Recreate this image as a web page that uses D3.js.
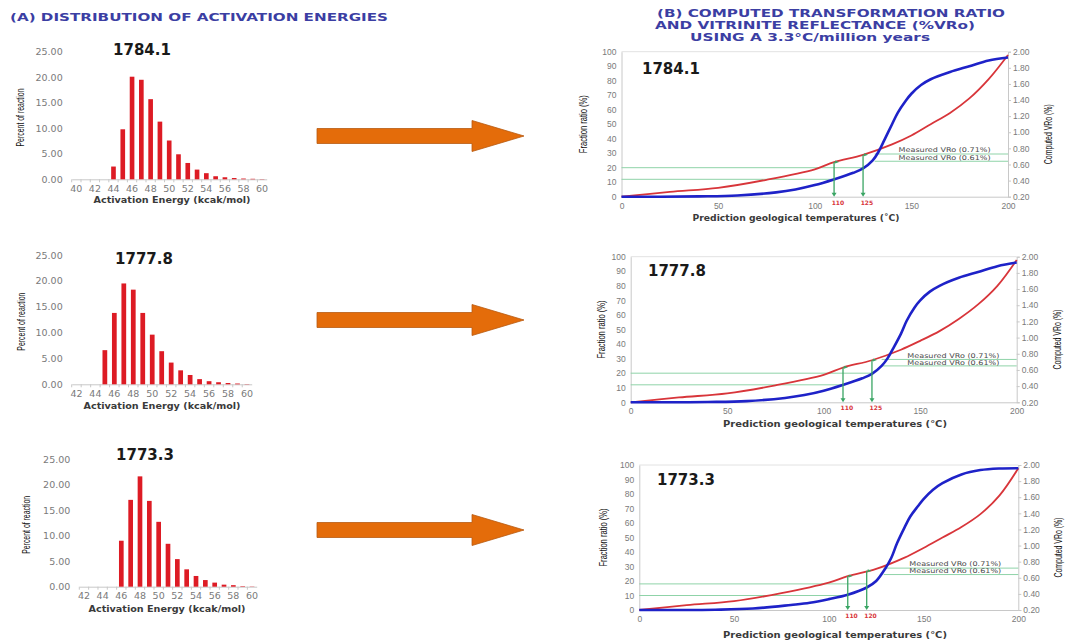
<!DOCTYPE html>
<html lang="en">
<head>
<meta charset="UTF-8">
<title>Activation energies &amp; transformation ratio</title>
<script src="https://d3js.org/d3.v7.min.js"></script>
<style>
  body { margin: 0; background: #fff; }
  svg { display: block; font-family: "DejaVu Sans", Verdana, sans-serif; }
  .tick text { fill: #7a7a7a; }
</style>
</head>
<body>
<svg id="fig" width="1069" height="644"></svg>
<script>
// sample depths, one row each
const sampleNames = ["1784.1", "1777.8", "1773.3"];

// (A) activation energy distributions (% of reaction per kcal/mol)
const energyTop = [40,41,42,43,44,45,46,47,48,49,50,51,52,53,54,55,56,57,58,59,60];
const pctTop    = [0,0,0,0,2.5,9.8,20.1,19.5,15.7,11.3,7.6,4.9,3.2,1.9,1.2,0.6,0.4,0.25,0.15,0.1,0.05];
const energyMid = [42,43,44,45,46,47,48,49,50,51,52,53,54,55,56,57,58,59,60];
const pctMid    = [0,0,0,6.6,13.8,19.5,18.3,13.8,9.6,6.4,4.2,2.7,1.8,1.0,0.6,0.4,0.25,0.15,0.05];
const energyBot = [42,43,44,45,46,47,48,49,50,51,52,53,54,55,56,57,58,59,60];
const pctBot    = [0,0,0,0,9.0,17.0,21.6,16.8,12.7,8.4,5.4,3.4,2.1,1.3,0.8,0.4,0.3,0.1,0.05];
const energyTicksTop = [40,42,44,46,48,50,52,54,56,58,60];
const energyTicks    = [42,44,46,48,50,52,54,56,58,60];
const pctTicks = [0,5,10,15,20,25];

// (B) transformation ratio (blue, left axis %) and computed VRo (red, right axis %)
const tempTR = [0,20,40,60,80,90,100,110,120,125,130,133,136,140,143,147,150,155,160,170,180,190,200];
const trTop  = [0,0,0.2,0.8,3,5,8,12,16.5,19.5,25,31,39,50,58,66,71,77,81,86,90,94,96];
const trMid  = [0,0,0.2,0.8,3,5,8,12,16.5,19.5,25,30,37,47,56,65,70,76,80,85.5,89.5,93.5,96];
const trBot  = [0,0,0.2,1,3.5,5,7.5,10.5,15.5,20,29,36,46,57,64.5,71.5,76.5,83,87.5,93.5,96.5,97.6,97.8];
const tempVR = [0,25,50,75,100,110,125,140,150,160,170,180,190,200];
const vroTop = [0.20,0.26,0.31,0.41,0.54,0.63,0.72,0.85,0.96,1.10,1.24,1.42,1.66,1.96];
const vroMid = [0.20,0.26,0.31,0.41,0.54,0.63,0.72,0.85,0.96,1.08,1.23,1.41,1.64,1.96];
const vroBot = [0.20,0.26,0.31,0.41,0.54,0.62,0.71,0.85,0.97,1.10,1.23,1.39,1.62,1.96];
const fracTicks = [0,10,20,30,40,50,60,70,80,90,100];
const vroTicks  = [0.2,0.4,0.6,0.8,1.0,1.2,1.4,1.6,1.8,2.0];
const tempTicks = [0,50,100,150,200];

// green reading lines: TR levels read at the temperatures, measured VRo lines
const trLevelsTop = [12, 20], readTempsTop = [110, 125], readTopFrac = [24, 29];
const trLevelsMid = [12, 20], readTempsMid = [110, 125], readMidFrac = [24, 29];
const trLevelsBot = [10, 18], readTempsBot = [110, 120], readBotFrac = [23.5, 27];
const measuredVroTop = [0.73, 0.64];
const measuredVroMid = [0.73, 0.65];
const measuredVroBot = [0.72, 0.64];
const measuredLabels = ["Measured VRo (0.71%)", "Measured VRo (0.61%)"];

const svg = d3.select("#fig");
svg.append("rect").attr("width", 1069).attr("height", 644).attr("fill", "#fff");

// headings
const blue = "#3b3ea3";
svg.append("text").attr("x", 10).attr("y", 21).attr("fill", blue)
  .attr("font-weight", "bold").attr("font-size", 11)
  .attr("textLength", 378).attr("lengthAdjust", "spacingAndGlyphs")
  .text("(A) DISTRIBUTION OF ACTIVATION ENERGIES");
[["(B) COMPUTED TRANSFORMATION RATIO", 657, 17, 348],
 ["AND VITRINITE REFLECTANCE (%VRo)", 655, 29, 320],
 ["USING A 3.3°C/million years", 690, 41, 240]].forEach(([t, x, y, w]) => {
  svg.append("text").attr("x", x).attr("y", y).attr("fill", blue)
    .attr("font-weight", "bold").attr("font-size", 11)
    .attr("textLength", w).attr("lengthAdjust", "spacingAndGlyphs").text(t);
});

const hists = [
  { name: sampleNames[0], energy: energyTop, pct: pctTop, ticks: energyTicksTop,
    xr: [71.7, 266.7], yr: [179.3, 51.7], titleX: 142, titleY: 55, ylabX: 21, xlabX: 172, xlabY: 203 },
  { name: sampleNames[1], energy: energyMid, pct: pctMid, ticks: energyTicks,
    xr: [71.7, 251.7], yr: [384.3, 255], titleX: 144, titleY: 264, ylabX: 22, xlabX: 162, xlabY: 409 },
  { name: sampleNames[2], energy: energyBot, pct: pctBot, ticks: energyTicks,
    xr: [79.3, 256.7], yr: [586.7, 459], titleX: 145, titleY: 460, ylabX: 27, xlabX: 167, xlabY: 612 }
];

function drawHistogram(p) {
  const g = svg.append("g");
  const x = d3.scaleBand().domain(p.energy).range(p.xr).paddingInner(0.5).paddingOuter(0.25);
  const y = d3.scaleLinear().domain([0, 25]).range(p.yr);
  const step = x.step();

  g.append("g").attr("transform", `translate(${p.xr[0]},0)`)
    .call(d3.axisLeft(y).tickValues(pctTicks).tickFormat(d3.format(".2f")).tickSize(0).tickPadding(9))
    .call(a => a.select(".domain").remove())
    .selectAll("text").attr("font-size", 9.5).attr("font-family", "DejaVu Sans");

  const xa = g.append("g").attr("transform", `translate(0,${p.yr[0]})`)
    .call(d3.axisBottom(x).tickValues(p.ticks).tickSize(0).tickPadding(6));
  xa.select(".domain").attr("stroke", "#c8c8c8");
  xa.selectAll("text").attr("font-size", 9.5).attr("font-family", "DejaVu Sans");
  // small ticks between categories
  g.selectAll(".btick").data(p.energy).join("line")
    .attr("x1", d => x(d) - step * 0.25).attr("x2", d => x(d) - step * 0.25)
    .attr("y1", p.yr[0]).attr("y2", p.yr[0] + 3).attr("stroke", "#c8c8c8");

  g.selectAll(".bar").data(p.energy).join("rect")
    .attr("x", d => x(d)).attr("width", x.bandwidth())
    .attr("y", (d, i) => y(p.pct[i])).attr("height", (d, i) => y(0) - y(p.pct[i]))
    .attr("fill", "#dd1b24");

  g.append("text").attr("x", p.titleX).attr("y", p.titleY).attr("text-anchor", "middle")
    .attr("font-weight", "bold").attr("font-size", 15).attr("fill", "#1a1a1a").text(p.name);
  g.append("text").attr("x", p.xlabX).attr("y", p.xlabY).attr("text-anchor", "middle")
    .attr("font-weight", "bold").attr("font-size", 8.5).attr("fill", "#3a3a3a")
    .attr("textLength", 157).attr("lengthAdjust", "spacingAndGlyphs")
    .text("Activation Energy (kcak/mol)");
  const cy = (p.yr[0] + p.yr[1]) / 2 + 2;
  g.append("text").attr("transform", `translate(${p.ylabX + 3},${cy}) rotate(-90)`)
    .attr("text-anchor", "middle").attr("font-size", 10).attr("fill", "#111")
    .attr("font-family", "Liberation Sans Narrow, Liberation Sans, sans-serif")
    .attr("textLength", 58).attr("lengthAdjust", "spacingAndGlyphs")
    .text("Percent of reaction");
}
hists.forEach(drawHistogram);

// orange arrows between the panels
[136, 320, 530].forEach(cy => {
  const x0 = 317, x1 = 472, x2 = 524, hb = 7.5, hh = 15.5;
  svg.append("path")
    .attr("d", `M${x0},${cy - hb}H${x1}V${cy - hh}L${x2},${cy}L${x1},${cy + hh}V${cy + hb}H${x0}Z`)
    .attr("fill", "#e46c0a").attr("stroke", "#b85a12").attr("stroke-width", 0.8);
});

const curves = [
  { name: sampleNames[0], tr: trTop, vro: vroTop, levels: trLevelsTop, reads: readTempsTop, readFrac: readTopFrac,
    measured: measuredVroTop, rStart: 131, xr: [621.5, 1008], yr: [196.7, 51.7],
    titleX: 642, titleY: 74, ylabX: 586, rlabX: 1051, xlabX: 796, xlabY: 221, xlabW: 207, unit: "(˚C)" },
  { name: sampleNames[1], tr: trMid, vro: vroMid, levels: trLevelsMid, reads: readTempsMid, readFrac: readMidFrac,
    measured: measuredVroMid, rStart: 130, xr: [630.7, 1016.7], yr: [402.3, 256.7],
    titleX: 648, titleY: 276, ylabX: 604, rlabX: 1060, xlabX: 835, xlabY: 427, xlabW: 224, unit: "(°C)" },
  { name: sampleNames[2], tr: trBot, vro: vroBot, levels: trLevelsBot, reads: readTempsBot, readFrac: readBotFrac,
    measured: measuredVroBot, rStart: 129, xr: [639.3, 1018.3], yr: [610, 465],
    titleX: 657, titleY: 485, ylabX: 606, rlabX: 1061, xlabX: 835, xlabY: 638, xlabW: 224, unit: "(°C)" }
];

function drawCurves(p) {
  const g = svg.append("g");
  const x = d3.scaleLinear().domain([0, 200]).range(p.xr);
  const yL = d3.scaleLinear().domain([0, 100]).range(p.yr);
  const yR = d3.scaleLinear().domain([0.2, 2.0]).range(p.yr);
  const green = "#3aa564", lightGreen = "#8fd3a8";

  // top frame line
  g.append("line").attr("x1", p.xr[0]).attr("x2", p.xr[1]).attr("y1", p.yr[1]).attr("y2", p.yr[1])
    .attr("stroke", "#e2e2e2");

  const la = g.append("g").attr("transform", `translate(${p.xr[0]},0)`)
    .call(d3.axisLeft(yL).tickValues(fracTicks).tickSize(0).tickPadding(5));
  la.select(".domain").attr("stroke", "#c8c8c8");
  la.selectAll("text").attr("font-size", 8.5);

  const ra = g.append("g").attr("transform", `translate(${p.xr[1]},0)`)
    .call(d3.axisRight(yR).tickValues(vroTicks).tickFormat(d3.format(".2f")).tickSize(3).tickPadding(2));
  ra.select(".domain").attr("stroke", "#c8c8c8");
  ra.selectAll("line").attr("stroke", "#c8c8c8");
  ra.selectAll("text").attr("font-size", 8.5);

  const ba = g.append("g").attr("transform", `translate(0,${p.yr[0]})`)
    .call(d3.axisBottom(x).tickValues(tempTicks).tickSize(0).tickPadding(6));
  ba.select(".domain").attr("stroke", "#c8c8c8");
  ba.selectAll("text").attr("font-size", 8.5);

  // green reading lines (left: TR levels, right: measured VRo)
  p.levels.forEach((lv, i) => {
    g.append("line").attr("x1", x(0)).attr("x2", x(p.reads[i])).attr("y1", yL(lv)).attr("y2", yL(lv))
      .attr("stroke", lightGreen).attr("stroke-width", 1);
  });
  p.measured.forEach((v, i) => {
    g.append("line").attr("x1", x(p.rStart)).attr("x2", x(200)).attr("y1", yR(v)).attr("y2", yR(v))
      .attr("stroke", lightGreen).attr("stroke-width", 1);
    g.append("text").attr("x", x(191)).attr("y", yR(v) - (i === 0 ? 1.8 : 1.2)).attr("text-anchor", "end")
      .attr("font-size", 6.5).attr("fill", "#4a4a4a")
      .attr("textLength", 92).attr("lengthAdjust", "spacingAndGlyphs").text(measuredLabels[i]);
  });

  const line = d3.line().curve(d3.curveCatmullRom.alpha(0.5));
  g.append("path").attr("d", line(tempVR.map((t, i) => [x(t), yR(p.vro[i])])))
    .attr("fill", "none").attr("stroke", "#d8353a").attr("stroke-width", 1.8);
  g.append("path").attr("d", line(tempTR.map((t, i) => [x(t), yL(p.tr[i])])))
    .attr("fill", "none").attr("stroke", "#1e22c8").attr("stroke-width", 2.6);

  // vertical reading arrows
  p.reads.forEach((t, i) => {
    const xx = x(t), yTop = yL(p.readFrac[i]), yb = yL(0);
    g.append("line").attr("x1", xx).attr("x2", xx).attr("y1", yTop).attr("y2", yb - 3)
      .attr("stroke", green).attr("stroke-width", 1.3);
    g.append("path").attr("d", `M${xx - 2.5},${yb - 4}L${xx + 2.5},${yb - 4}L${xx},${yb}Z`).attr("fill", green);
    g.append("path").attr("d", `M${xx + 1},${yTop - 1.5}L${xx + 5},${yTop}L${xx + 1},${yTop + 1.5}Z`).attr("fill", green);
    g.append("text").attr("x", x(t + 2)).attr("y", yb + 8).attr("text-anchor", "middle")
      .attr("font-size", 6).attr("font-weight", "bold").attr("fill", "#d8353a").text(t);
  });

  g.append("text").attr("x", p.titleX).attr("y", p.titleY)
    .attr("font-weight", "bold").attr("font-size", 15).attr("fill", "#1a1a1a").text(p.name);
  g.append("text").attr("x", p.xlabX).attr("y", p.xlabY).attr("text-anchor", "middle")
    .attr("font-weight", "bold").attr("font-size", 8.5).attr("fill", "#3a3a3a")
    .attr("textLength", p.xlabW).attr("lengthAdjust", "spacingAndGlyphs")
    .text("Prediction geological temperatures " + p.unit);
  const cy = (p.yr[0] + p.yr[1]) / 2;
  g.append("text").attr("transform", `translate(${p.ylabX + 1},${cy}) rotate(-90)`)
    .attr("text-anchor", "middle").attr("font-size", 10).attr("fill", "#111")
    .attr("font-family", "Liberation Sans Narrow, Liberation Sans, sans-serif")
    .attr("textLength", 58).attr("lengthAdjust", "spacingAndGlyphs").text("Fraction ratio (%)");
  g.append("text").attr("transform", `translate(${p.rlabX + 1},${cy + 10}) rotate(-90)`)
    .attr("text-anchor", "middle").attr("font-size", 10).attr("fill", "#111")
    .attr("font-family", "Liberation Sans Narrow, Liberation Sans, sans-serif")
    .attr("textLength", 60).attr("lengthAdjust", "spacingAndGlyphs").text("Computed VRo (%)");
}
curves.forEach(drawCurves);
</script>
</body>
</html>
